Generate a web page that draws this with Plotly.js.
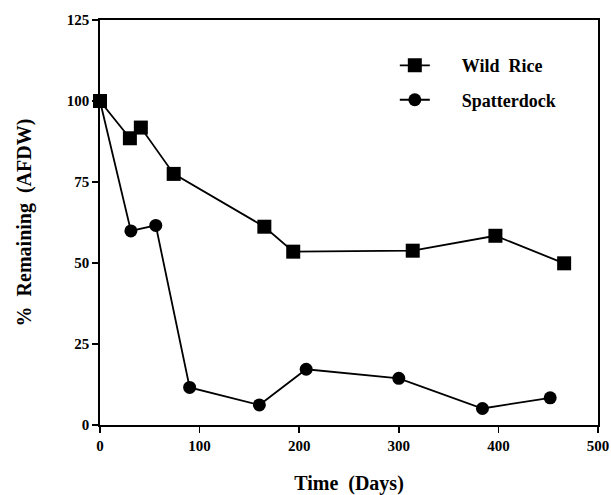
<!DOCTYPE html>
<html>
<head>
<meta charset="utf-8">
<script src="https://cdn.plot.ly/plotly-3.0.1.min.js"></script>
<style>html,body{margin:0;padding:0;background:#fff;}#chart{width:611px;height:495px;}</style>
</head>
<body>
<div id="chart"></div>
<script>
const wildRiceDays = [0, 30, 41, 74, 165, 194, 314, 397, 466];
const wildRicePct  = [100, 88.5, 91.8, 77.5, 61.2, 53.5, 53.8, 58.4, 49.9];
const spatterDays  = [0, 31, 56, 90, 160, 207, 300, 384, 452];
const spatterPct   = [100, 59.9, 61.6, 11.6, 6.2, 17.2, 14.4, 5.1, 8.4];
const seriesNames  = ["\u00a0\u00a0\u00a0\u00a0\u00a0\u00a0Wild\u00a0\u00a0Rice", "\u00a0\u00a0\u00a0\u00a0\u00a0\u00a0Spatterdock"];
const xTicks = [0, 100, 200, 300, 400, 500];
const yTicks = [0, 25, 50, 75, 100, 125];

const serif = "Liberation Serif, Times New Roman, serif";

const traces = [
  {x: wildRiceDays, y: wildRicePct, name: seriesNames[0], mode: "lines+markers",
   legendgroup: "a", cliponaxis: false,
   line: {color: "#000", width: 1.8},
   marker: {symbol: "square", size: 14, color: "#000"}},
  {x: spatterDays, y: spatterPct, name: seriesNames[1], mode: "lines+markers",
   legendgroup: "b", cliponaxis: false,
   line: {color: "#000", width: 1.8},
   marker: {symbol: "circle", size: 13, color: "#000"}}
];

const axisCommon = {
  showline: true, linecolor: "#000", linewidth: 1.8, mirror: true,
  ticks: "outside", ticklen: 6, tickwidth: 1.5, tickcolor: "#000",
  showgrid: false, zeroline: false,
  tickfont: {family: serif, size: 15, color: "#000", weight: "bold"}
};

const layout = {
  width: 611, height: 495,
  margin: {l: 100, r: 13, t: 20, b: 70},
  paper_bgcolor: "#fff", plot_bgcolor: "#fff",
  showlegend: true,
  legend: {x: 0.592, y: 0.933, xanchor: "left", yanchor: "top",
    bgcolor: "rgba(0,0,0,0)", tracegroupgap: 8,
    font: {family: serif, size: 18, color: "#000", weight: "bold"}},
  xaxis: Object.assign({}, axisCommon, {
    range: [0, 500], tickvals: xTicks, ticktext: xTicks.map(String),
    title: {text: "Time\u00a0\u00a0(Days)", standoff: 24,
      font: {family: serif, size: 20, color: "#000", weight: "bold"}}
  }),
  yaxis: Object.assign({}, axisCommon, {
    range: [0, 125], tickvals: yTicks, ticktext: yTicks.map(String),
    title: {text: "%\u00a0\u00a0Remaining\u00a0\u00a0(AFDW)", standoff: 30,
      font: {family: serif, size: 20, color: "#000", weight: "bold"}}
  })
};

Plotly.newPlot("chart", traces, layout, {displayModeBar: false, staticPlot: true});
</script>
</body>
</html>
